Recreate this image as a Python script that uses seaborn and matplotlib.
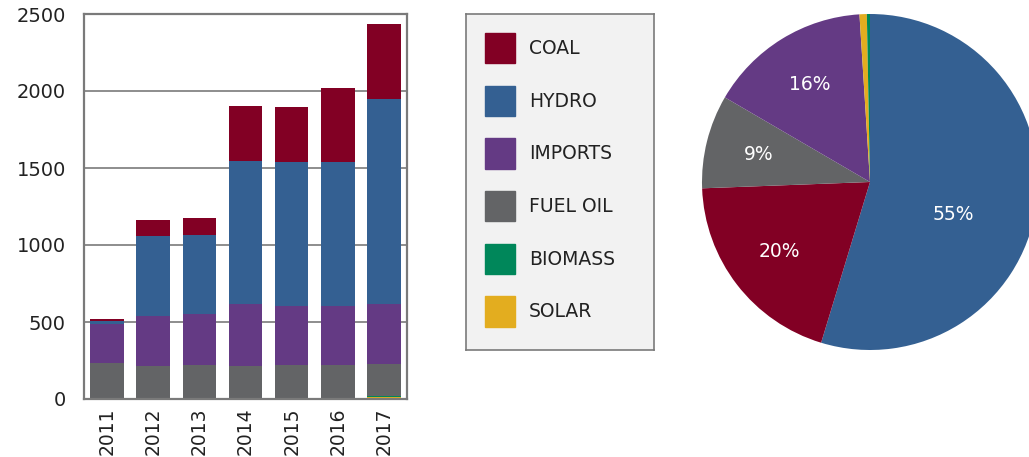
import matplotlib
matplotlib.use('Agg')
import matplotlib.pyplot as plt
import matplotlib.patches as mpatches
import numpy as np
import pandas as pd
import seaborn as sns

# --- data ---
years = ['2011', '2012', '2013', '2014', '2015', '2016', '2017']
sources = ['COAL', 'HYDRO', 'IMPORTS', 'FUEL OIL', 'BIOMASS', 'SOLAR']
solar = [0, 0, 0, 0, 0, 0, 12]
biomass = [0, 0, 0, 0, 5, 5, 5]
fuel_oil = [232, 214, 221, 214, 216, 216, 212]
imports = [255, 325, 331, 403, 385, 385, 388]
hydro = [19, 519, 513, 928, 933, 933, 1331]
coal = [14, 104, 110, 358, 357, 480, 487]

# pie shares (%), clockwise from the top
pie_labels = ['HYDRO', 'COAL', 'FUEL OIL', 'IMPORTS', 'SOLAR', 'BIOMASS']
pie_shares = [54.7, 19.7, 9.0, 15.6, 0.7, 0.3]

colors = {
    'COAL': '#820024',
    'HYDRO': '#346092',
    'IMPORTS': '#643a84',
    'FUEL OIL': '#636466',
    'BIOMASS': '#00875a',
    'SOLAR': '#e3ad1f',
}
GRAY = '#7a7a7a'
TEXT = '#222222'
FS = 13.5

sns.set_style('white')
plt.rcParams['font.family'] = ['DejaVu Sans']
plt.rcParams['text.color'] = TEXT

fig = plt.figure(figsize=(10.29, 4.57), dpi=100)

# --- stacked bars: draw cumulative totals from the top layer down ---
ax = fig.add_axes([84 / 1029, 1 - 399 / 457, 323 / 1029, 385 / 457])
df = pd.DataFrame({'year': years, 'SOLAR': solar, 'BIOMASS': biomass,
                   'FUEL OIL': fuel_oil, 'IMPORTS': imports,
                   'HYDRO': hydro, 'COAL': coal})
stack_order = ['SOLAR', 'BIOMASS', 'FUEL OIL', 'IMPORTS', 'HYDRO', 'COAL']
cum = df[stack_order].cumsum(axis=1)
for src in reversed(stack_order):
    sns.barplot(x=df['year'], y=cum[src], color=colors[src], saturation=1,
                width=0.73, ax=ax, linewidth=0)

ax.set_xlim(-0.5, 6.5)
ax.set_ylim(0, 2500)
ax.set_yticks([0, 500, 1000, 1500, 2000, 2500])
ax.set_xlabel('')
ax.set_ylabel('')
ax.set_axisbelow(True)
ax.yaxis.grid(True, color=GRAY, linewidth=1.2)
for sp in ax.spines.values():
    sp.set_visible(True)
    sp.set_color(GRAY)
    sp.set_linewidth(1.6)
ax.tick_params(axis='y', length=0, pad=13, labelsize=FS + 0.5,
               labelcolor=TEXT)
ax.tick_params(axis='x', length=0, pad=6, labelsize=FS, labelcolor=TEXT,
               rotation=90)
ax.set_xticks(np.arange(0.5, 6, 1), minor=True)
ax.tick_params(axis='x', which='minor', direction='in', length=7,
               width=1.5, color=GRAY)

# --- legend box ---
lax = fig.add_axes([466 / 1029, 1 - 350 / 457, 188 / 1029, 336 / 457])
lax.set_facecolor('#f2f2f2')
lax.set_xticks([])
lax.set_yticks([])
for sp in lax.spines.values():
    sp.set_color(GRAY)
    sp.set_linewidth(1.2)
handles = [mpatches.Patch(color=colors[s], label=s) for s in sources]
lax.legend(handles=handles, loc='upper left', frameon=False, fontsize=FS,
           handlelength=1.6, handleheight=2.1, labelspacing=1.2,
           handletextpad=0.75, borderpad=0.0, borderaxespad=0.0,
           bbox_to_anchor=(19 / 188, 1 - 19 / 336))

# --- pie ---
pax = fig.add_axes([702 / 1029, 1 - 350 / 457, 336 / 1029, 336 / 457])
wedges, texts, autotexts = pax.pie(
    pie_shares, colors=[colors[s] for s in pie_labels], startangle=90,
    counterclock=False, pctdistance=0.68,
    autopct=lambda p: f'{p:.0f}%' if p > 5 else '',
    wedgeprops=dict(linewidth=0),
    textprops=dict(color='white', fontsize=FS))
# hydro label sits nearer the centre in the reference
x, y = autotexts[0].get_position()
autotexts[0].set_position((x * 0.74, y * 0.74 - 0.12))
pax.set_xlim(-1, 1)
pax.set_ylim(-1, 1)
pax.axis('off')

fig.savefig('out.png', dpi=100)
